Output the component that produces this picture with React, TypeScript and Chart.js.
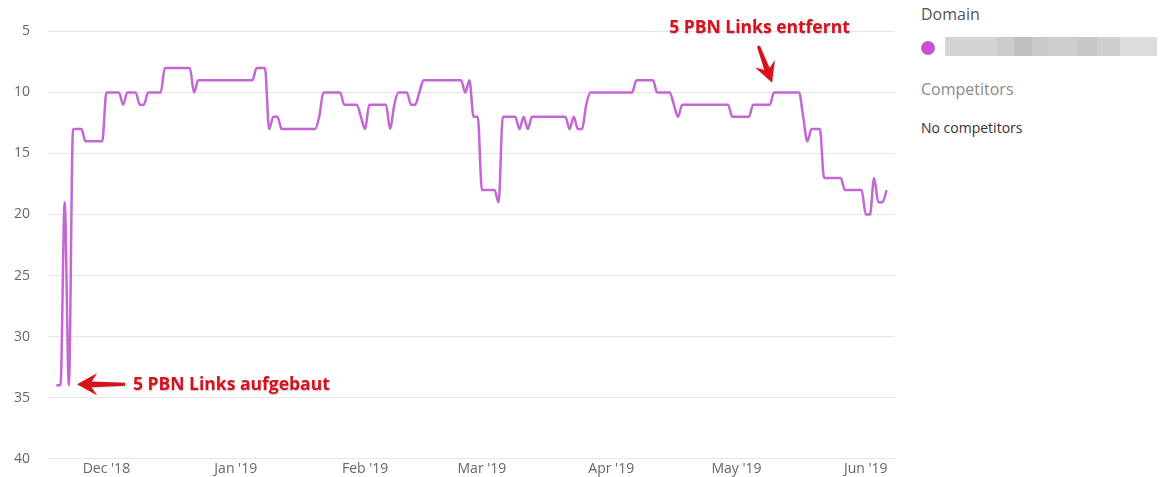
import React, { useEffect, useRef } from 'react';
import { Chart, registerables } from 'chart.js';

Chart.register(...registerables);

// Daily ranking positions, one per day starting 2018-11-17 (null = no data)
const rankValues: (number | null)[] = [
  // Nov 17 - Nov 30
  null, null, 34, 34, 19, 34, 13, 13, 13, 14, 14, 14, 14, 14,
  // Dec 1 - Dec 31
  10, 10, 10, 10, 11, 10, 10, 10, 11, 11, 10, 10, 10, 10, 8, 8,
  8, 8, 8, 8, 8, 10, 9, 9, 9, 9, 9, 9, 9, 9, 9,
  // Jan 1 - Jan 31
  9, 9, 9, 9, 9, 8, 8, 8, 13, 12, 12, 13, 13, 13, 13, 13,
  13, 13, 13, 13, 12, 10, 10, 10, 10, 10, 11, 11, 11, 11, 12,
  // Feb 1 - Feb 28
  13, 11, 11, 11, 11, 11, 13, 11, 10, 10, 10, 11, 11, 10, 9, 9,
  9, 9, 9, 9, 9, 9, 9, 9, 10, 9, 12, 12,
  // Mar 1 - Mar 31
  18, 18, 18, 18, 19, 12, 12, 12, 12, 13, 12, 13, 12, 12, 12, 12,
  12, 12, 12, 12, 12, 13, 12, 13, 13, 11, 10, 10, 10, 10, 10,
  // Apr 1 - Apr 30
  10, 10, 10, 10, 10, 10, 9, 9, 9, 9, 9, 10, 10, 10, 10, 11,
  12, 11, 11, 11, 11, 11, 11, 11, 11, 11, 11, 11, 11, 12,
  // May 1 - May 31
  12, 12, 12, 12, 11, 11, 11, 11, 11, 10, 10, 10, 10, 10, 10, 10,
  12, 14, 13, 13, 13, 17, 17, 17, 17, 17, 18, 18, 18, 18, 18,
  // Jun 1 - Jun 8
  20, 20, 17, 19, 19, 18, null, null,
];

const firstDay = { year: 2018, month: 10, day: 17 };
const monthStarts = ['2018-12-01', '2019-01-01', '2019-02-01', '2019-03-01', '2019-04-01', '2019-05-01', '2019-06-01'];
const monthTickLabels = ["Dec '18", "Jan '19", "Feb '19", "Mar '19", "Apr '19", "May '19", "Jun '19"];

const yTickValues = [0, 5, 10, 15, 20, 25, 30, 35, 40];

const seriesName = 'Domain';
const competitorsTitle = 'Competitors';
const competitorsText = 'No competitors';

const annotationTexts = ['5 PBN Links aufgebaut', '5 PBN Links entfernt'];
const annotationAnchorIndex = [6, 174];
const annotationAnchorValue = [34, 10];

const dayLabels: string[] = rankValues.map((_, i) =>
  new Date(Date.UTC(firstDay.year, firstDay.month, firstDay.day + i)).toISOString().slice(0, 10)
);

const LINE_COLOR = '#c466d6';
const RED = '#d8121d';

function drawArrow(
  ctx: CanvasRenderingContext2D,
  tipX: number,
  tipY: number,
  dirX: number,
  dirY: number,
  length: number,
  headLen: number,
  headHalf: number,
  tailHalf: number
) {
  const n = Math.hypot(dirX, dirY);
  const ux = dirX / n;
  const uy = dirY / n;
  const px = -uy;
  const py = ux;
  const pt = (u: number, v: number): [number, number] => [tipX - ux * u + px * v, tipY - uy * u + py * v];
  const pts = [
    pt(0, 0),
    pt(headLen, headHalf),
    pt(headLen * 0.72, 2.8),
    pt(length, tailHalf),
    pt(length, -tailHalf),
    pt(headLen * 0.72, -2.8),
    pt(headLen, -headHalf),
  ];
  ctx.beginPath();
  ctx.moveTo(pts[0][0], pts[0][1]);
  for (let i = 1; i < pts.length; i++) ctx.lineTo(pts[i][0], pts[i][1]);
  ctx.closePath();
  ctx.fill();
}

const annotationPlugin = {
  id: 'pbnAnnotations',
  afterDraw(chart: any) {
    const ctx: CanvasRenderingContext2D = chart.ctx;
    const xs = chart.scales.x;
    const ys = chart.scales.y;
    ctx.save();
    ctx.fillStyle = RED;
    ctx.shadowColor = 'rgba(0,0,0,0.25)';
    ctx.shadowBlur = 1.5;
    ctx.shadowOffsetX = 0.5;
    ctx.shadowOffsetY = 0.5;

    // first annotation: arrow pointing left to the rise
    const ax = xs.getPixelForValue(annotationAnchorIndex[0]) + 4;
    const ay = ys.getPixelForValue(annotationAnchorValue[0]) - 1;
    drawArrow(ctx, ax, ay, -1, 0, 48, 20, 11, 1.5);
    ctx.font = 'bold 17.5px "Open Sans"';
    ctx.textAlign = 'left';
    ctx.textBaseline = 'middle';
    ctx.fillText(annotationTexts[0], ax + 56, ay + 1);

    // second annotation: arrow pointing down to the plateau
    const bx = xs.getPixelForValue(annotationAnchorIndex[1]) - 2;
    const by = ys.getPixelForValue(annotationAnchorValue[1]) - 10;
    drawArrow(ctx, bx, by, 13.7, 36.7, 39, 20, 10.5, 1.5);
    ctx.textAlign = 'center';
    ctx.fillText(annotationTexts[1], bx - 12.5, by - 54);
    ctx.restore();
  },
};

const blurShades = [
  { w: 52, c: '#d4d4d4' },
  { w: 17, c: '#cbcbcb' },
  { w: 18, c: '#bfbfbf' },
  { w: 15, c: '#c9c9c9' },
  { w: 30, c: '#cdcdcd' },
  { w: 20, c: '#c6c6c6' },
  { w: 23, c: '#cfcfcf' },
  { w: 37, c: '#dcdcdc' },
];

export default function App() {
  const canvasRef = useRef<HTMLCanvasElement | null>(null);

  useEffect(() => {
    const canvas = canvasRef.current;
    if (!canvas) return;
    const chart = new Chart(canvas, {
      type: 'line',
      data: {
        labels: dayLabels,
        datasets: [
          {
            label: seriesName,
            data: rankValues,
            borderColor: LINE_COLOR,
            backgroundColor: LINE_COLOR,
            borderWidth: 2.5,
            pointRadius: 0,
            pointHoverRadius: 0,
            cubicInterpolationMode: 'monotone',
            fill: false,
            spanGaps: false,
          },
        ],
      },
      options: {
        animation: false,
        responsive: false,
        maintainAspectRatio: false,
        devicePixelRatio: 1,
        layout: { padding: { top: 10, right: 5, bottom: 0, left: 0 } },
        plugins: {
          legend: { display: false },
          tooltip: { enabled: false },
        },
        scales: {
          x: {
            type: 'category',
            offset: false,
            grid: { display: false, drawTicks: false },
            border: { display: false },
            ticks: {
              autoSkip: false,
              maxRotation: 0,
              minRotation: 0,
              padding: 2,
              color: '#666',
              font: { family: 'Open Sans', size: 14 },
              callback: (value: any) => {
                const k = monthStarts.indexOf(dayLabels[value as number]);
                return k >= 0 ? monthTickLabels[k] : '';
              },
            },
            afterBuildTicks: (axis: any) => {
              axis.ticks = axis.ticks.filter((t: any) => monthStarts.includes(dayLabels[t.value]));
            },
            afterFit: (axis: any) => {
              axis.height = 20;
            },
          },
          y: {
            reverse: true,
            min: yTickValues[0],
            max: yTickValues[yTickValues.length - 1],
            grid: { color: '#e6e6e6', drawTicks: false, lineWidth: 1 },
            border: { display: false },
            ticks: {
              stepSize: 5,
              padding: 18,
              color: '#666',
              font: { family: 'Open Sans', size: 14 },
            },
            afterFit: (axis: any) => {
              axis.width = 48;
            },
          },
        },
      },
      plugins: [annotationPlugin],
    });
    return () => chart.destroy();
  }, []);

  return (
    <div
      style={{
        position: 'fixed',
        left: 0,
        top: 0,
        width: 1161,
        height: 477,
        overflow: 'hidden',
        background: '#fff',
        fontFamily: '"Open Sans", sans-serif',
      }}
    >
      <canvas
        ref={canvasRef}
        width={900}
        height={541}
        style={{ position: 'absolute', left: 0, top: -56, width: 900, height: 541 }}
      />
      <div style={{ position: 'absolute', left: 921, top: 4, fontSize: 16, lineHeight: '20px', color: '#555' }}>
        {seriesName}
      </div>
      <div
        style={{
          position: 'absolute',
          left: 921,
          top: 41,
          width: 14,
          height: 14,
          borderRadius: '50%',
          background: '#c455d2',
        }}
      />
      <div style={{ position: 'absolute', left: 945, top: 37, height: 19, display: 'flex' }}>
        {blurShades.map((s, i) => (
          <div key={i} style={{ width: s.w, height: 19, background: s.c }} />
        ))}
      </div>
      <div style={{ position: 'absolute', left: 921, top: 79, fontSize: 16, lineHeight: '20px', color: '#8a8a8a' }}>
        {competitorsTitle}
      </div>
      <div style={{ position: 'absolute', left: 921, top: 119, fontSize: 14, lineHeight: '18px', color: '#333' }}>
        {competitorsText}
      </div>
    </div>
  );
}
